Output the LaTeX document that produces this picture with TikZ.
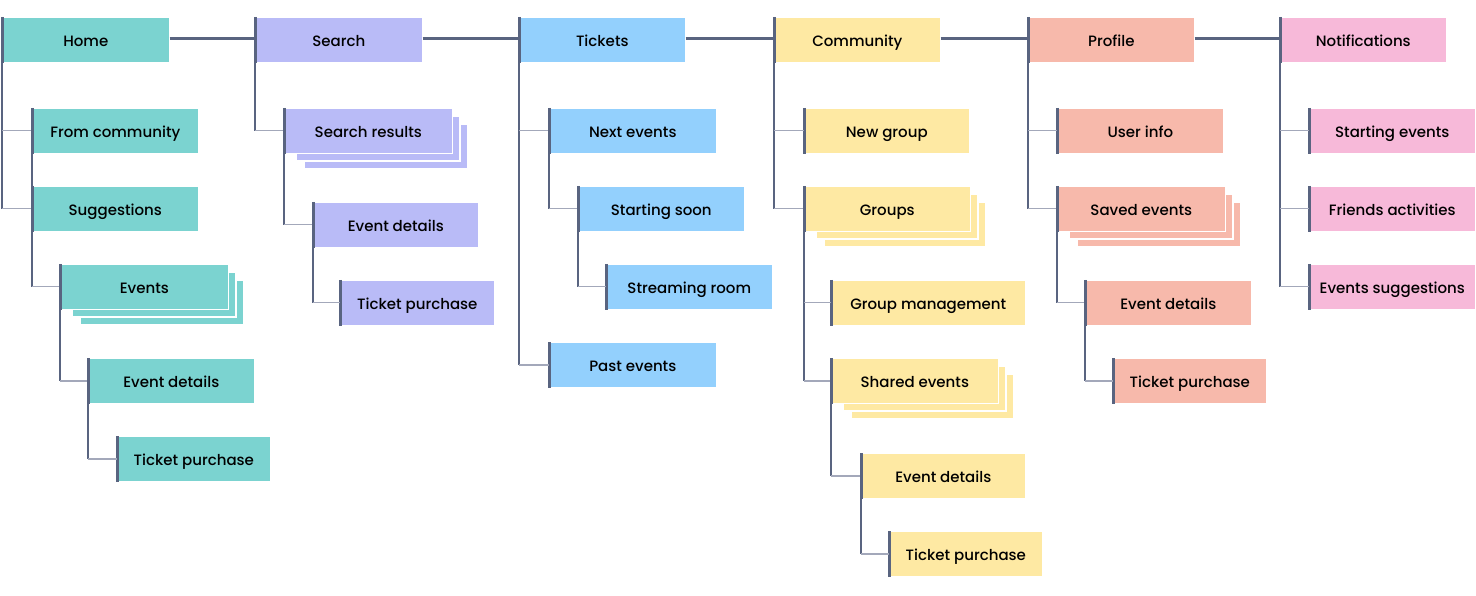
\documentclass[tikz,border=0pt]{standalone}
\usepackage{fontspec}
\setmainfont{Poppins Medium}
\definecolor{cteal}{HTML}{7BD3D0}
\definecolor{cpurple}{HTML}{B9BBF7}
\definecolor{cblue}{HTML}{93D0FD}
\definecolor{cyellow}{HTML}{FEE9A3}
\definecolor{csalmon}{HTML}{F7B9AB}
\definecolor{cpink}{HTML}{F7B9D9}
\definecolor{cdark}{HTML}{596480}
\definecolor{clight}{HTML}{A3A8BA}
\tikzset{
  box/.style={anchor=north west, inner sep=0pt, minimum height=45pt, fill=#1,
    draw=white, line width=0.6pt, font=\fontsize{15}{17}\selectfont, text=black,
    text height=12.5pt, text depth=0pt},
  vline/.style={draw=cdark, line width=2.6pt},
  hline/.style={draw=clight, line width=1.4pt},
}
% \bx{name}{x}{y}{width}{colour}{text}
\newcommand\bx[6]{%
  \node[box=#5, minimum width=#4pt] (#1) at (#2,#3) {#6};
  \draw[vline] ([xshift=0.4pt]#1.north west) -- ([xshift=0.4pt]#1.south west);}
% stacked box
\newcommand\sbx[6]{%
  \fill[#5] (#2+20,#3+16) rectangle (#2+#4+16,#3+45+16);
  \draw[white, line width=1.4pt] (#2+20,#3+16) rectangle (#2+#4+16,#3+45+16);
  \fill[#5] (#2+12,#3+8) rectangle (#2+#4+8,#3+45+8);
  \draw[white, line width=1.4pt] (#2+12,#3+8) rectangle (#2+#4+8,#3+45+8);
  \bx{#1}{#2}{#3}{#4}{#5}{#6}}
\newcommand\conn[2]{\draw[hline] (#1.north west |- #2.west) -- (#2.west);}
\newcommand\trunk[2]{\draw[vline] (#1.north west) -- (#1.north west |- #2.west);}
\newcommand\link[2]{\draw[vline] ([yshift=1.5pt]#1.east) -- ([yshift=1.5pt]#2.west);}
\begin{document}
\begin{tikzpicture}[x=1pt,y=-1pt]
\useasboundingbox (0,0) rectangle (1476,596);
% top level
\bx{home}{2}{17}{167}{cteal}{Home}
\bx{srch}{255}{17}{167}{cpurple}{Search}
\bx{tick}{519}{17}{166}{cblue}{Tickets}
\bx{comm}{774}{17}{166}{cyellow}{Community}
\bx{prof}{1028}{17}{166}{csalmon}{Profile}
\bx{noti}{1280}{17}{166}{cpink}{Notifications}
\link{home}{srch}
\link{srch}{tick}
\link{tick}{comm}
\link{comm}{prof}
\link{prof}{noti}
% Home column
\bx{hfc}{32}{108}{166}{cteal}{From community}
\bx{hsug}{32}{186}{166}{cteal}{Suggestions}
\sbx{hev}{60}{264}{168}{cteal}{Events}
\bx{hed}{88}{358}{166}{cteal}{Event details}
\bx{htp}{117}{436}{153}{cteal}{Ticket purchase}
\trunk{home}{hsug}\conn{home}{hfc}\conn{home}{hsug}
\trunk{hfc}{hev}\conn{hfc}{hev}
\trunk{hev}{hed}\conn{hev}{hed}
\trunk{hed}{htp}\conn{hed}{htp}
% Search column
\sbx{ssr}{284}{108}{168}{cpurple}{Search results}
\bx{sed}{313}{202}{165}{cpurple}{Event details}
\bx{stp}{340}{280}{154}{cpurple}{Ticket purchase}
\trunk{srch}{ssr}\conn{srch}{ssr}
\trunk{ssr}{sed}\conn{ssr}{sed}
\trunk{sed}{stp}\conn{sed}{stp}
% Tickets column
\bx{tne}{549}{108}{167}{cblue}{Next events}
\bx{tss}{578}{186}{166}{cblue}{Starting soon}
\bx{tsr}{606}{264}{166}{cblue}{Streaming room}
\bx{tpe}{549}{342}{167}{cblue}{Past events}
\trunk{tick}{tpe}\conn{tick}{tne}\conn{tick}{tpe}
\trunk{tne}{tss}\conn{tne}{tss}
\trunk{tss}{tsr}\conn{tss}{tsr}
% Community column
\bx{cng}{804}{108}{165}{cyellow}{New group}
\sbx{cgr}{804}{186}{166}{cyellow}{Groups}
\bx{cgm}{831}{280}{194}{cyellow}{Group management}
\sbx{cse}{831}{358}{167}{cyellow}{Shared events}
\bx{ced}{861}{453}{164}{cyellow}{Event details}
\bx{ctp}{889}{531}{153}{cyellow}{Ticket purchase}
\trunk{comm}{cgr}\conn{comm}{cng}\conn{comm}{cgr}
\trunk{cgr}{cse}\conn{cgr}{cgm}\conn{cgr}{cse}
\trunk{cse}{ced}\conn{cse}{ced}
\trunk{ced}{ctp}\conn{ced}{ctp}
% Profile column
\bx{pui}{1057}{108}{166}{csalmon}{User info}
\sbx{pse}{1057}{186}{168}{csalmon}{Saved events}
\bx{ped}{1085}{280}{166}{csalmon}{Event details}
\bx{ptp}{1113}{358}{153}{csalmon}{Ticket purchase}
\trunk{prof}{pse}\conn{prof}{pui}\conn{prof}{pse}
\trunk{pse}{ped}\conn{pse}{ped}
\trunk{ped}{ptp}\conn{ped}{ptp}
% Notifications column
\bx{nse}{1309}{108}{166}{cpink}{Starting events}
\bx{nfa}{1309}{186}{166}{cpink}{Friends activities}
\bx{nes}{1309}{264}{166}{cpink}{Events suggestions}
\trunk{noti}{nes}\conn{noti}{nse}\conn{noti}{nfa}\conn{noti}{nes}
\end{tikzpicture}
\end{document}
